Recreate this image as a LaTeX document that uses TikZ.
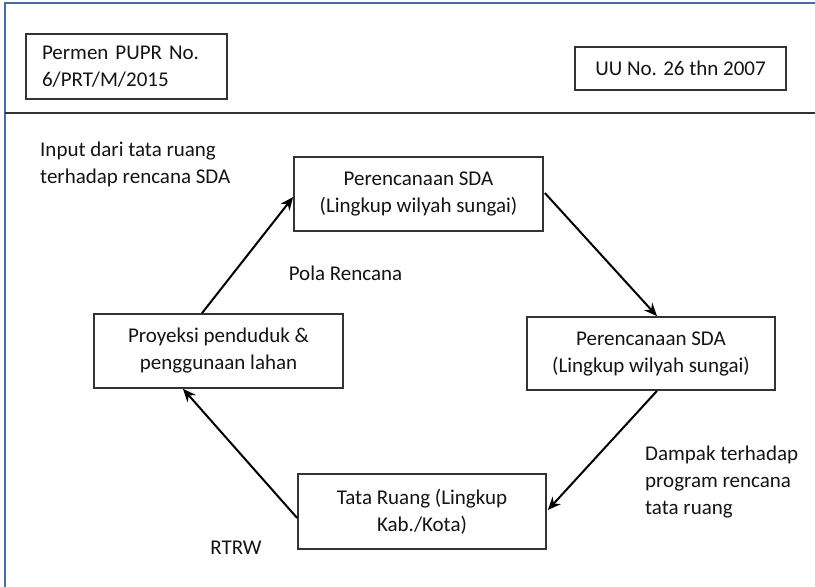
\documentclass[tikz,border=0pt]{standalone}
\usepackage{fontspec}
\setmainfont{Carlito}
\usetikzlibrary{arrows.meta,calc}
\definecolor{framecol}{HTML}{4A6AA5}
\definecolor{rulecol}{HTML}{333333}
\definecolor{inkcol}{HTML}{141414}
\begin{document}
\begin{tikzpicture}[x=1pt,y=-1pt,
  every node/.style={font=\fontsize{21}{27}\selectfont, text=inkcol},
  box/.style={draw=rulecol, line width=1.7pt, inner sep=0pt, align=center},
  label/.style={inner sep=0pt, align=left},
  flow/.style={line width=2pt, black, -{Stealth[length=13pt,width=11pt]}}]
\useasboundingbox (0,0) rectangle (815,587);
\fill[white] (0,0) rectangle (815,587);
% outer frame (top and left edges) and header rule
\draw[framecol, line width=2pt] (4.5,600) -- (4.5,2.5) -- (830,2.5);
\draw[rulecol, line width=2.4pt] (4.5,113) -- (830,113);
% header boxes
\node[box, minimum width=201pt, minimum height=65pt, text width=169pt, align=left]
  (permen) at (126.5,66.5) {Permen PUPR No.\\6/PRT/M/2015};
\node[box, minimum width=211pt, minimum height=43pt] (uu) at (680.5,68.5) {UU No. 26 thn 2007};
% cycle boxes
\node[box, minimum width=249pt, minimum height=74pt] (sdaTop) at (418.5,194) {Perencanaan SDA\\(Lingkup wilyah sungai)};
\node[box, minimum width=248pt, minimum height=73pt] (sdaRight) at (651,353.5) {Perencanaan SDA\\(Lingkup wilyah sungai)};
\node[box, minimum width=249pt, minimum height=74pt] (proyeksi) at (218.5,351) {Proyeksi penduduk \&\\penggunaan lahan};
\node[box, minimum width=248pt, minimum height=75pt] (tata) at (422,511.5) {Tata Ruang (Lingkup\\Kab./Kota)};
% connectors
\draw[flow] ($(proyeksi.north)+(-16.5,0)$) -- ($(sdaTop.west)+(0,3)$);
\draw[flow] ($(sdaTop.east)+(1,-1)$) -- ($(sdaRight.north)+(6,0)$);
\draw[flow] ($(sdaRight.south)+(6,0)$) -- ($(tata.east)+(1,-1.5)$);
\draw[flow] ($(tata.west)+(0,6.5)$) -- ($(proyeksi.south)+(-35.5,0)$);
% free labels
\node[label, anchor=west] (input) at (40,164) {Input dari tata ruang\\terhadap rencana SDA};
\node[label] (pola) at (345.5,273) {Pola Rencana};
\node[label, anchor=west] (dampak) at (645,482) {Dampak terhadap\\program rencana\\tata ruang};
\node[label] (rtrw) at (236,548) {RTRW};
\end{tikzpicture}
\end{document}
